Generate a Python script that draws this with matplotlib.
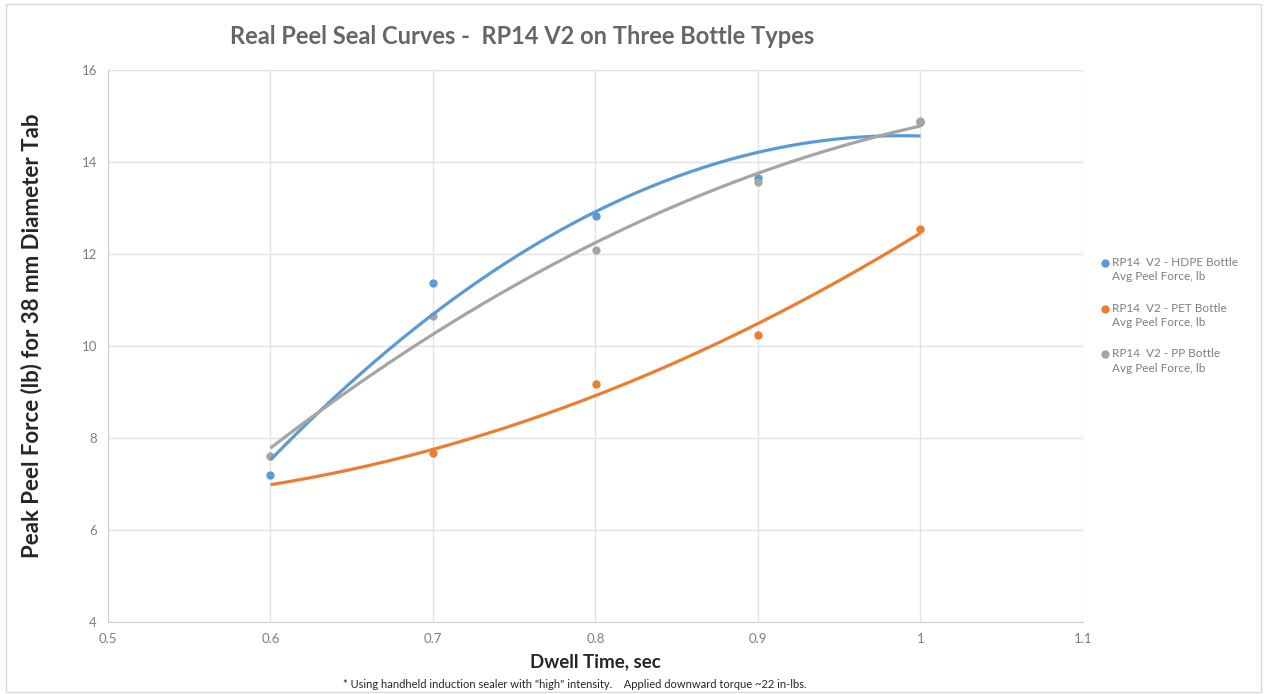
import matplotlib.pyplot as plt
import numpy as np
from matplotlib.lines import Line2D
from matplotlib.patches import Rectangle

plt.rcParams['font.family'] = ['Lato', 'DejaVu Sans']

# data
dwell = [0.6, 0.7, 0.8, 0.9, 1.0]
hdpe = [7.2, 11.37, 12.83, 13.65, 14.86]
pet_x = [0.7, 0.8, 0.9, 1.0]
pet = [7.67, 9.17, 10.24, 12.54]
pp = [7.61, 10.65, 12.09, 13.57, 14.9]

labels = ["RP14  V2 - HDPE Bottle\nAvg Peel Force, lb",
          "RP14  V2 - PET Bottle\nAvg Peel Force, lb",
          "RP14  V2 - PP Bottle\nAvg Peel Force, lb"]
colors = ["#5B9BD5", "#ED7D31", "#A5A5A5"]

W, H = 1267, 694
fig = plt.figure(figsize=(W/100, H/100), dpi=100)
ax = fig.add_axes([108/W, 1-622/H, (1083-108)/W, (622-70)/H])

# border round the chart area
fig.patches.append(Rectangle((6/W, 2/H), 1255/W, 688/H, transform=fig.transFigure,
                             fill=False, edgecolor="#D9D9D9", linewidth=1))

series = [(dwell, hdpe), (pet_x, pet), (dwell, pp)]
xx = np.linspace(0.6, 1.0, 200)
for (x, y), c in zip(series, colors):
    ax.scatter(x, y, s=36, color=c, zorder=3, linewidths=0)
    # 2nd order trendline, like excel
    p = np.polyfit(x, y, 2)
    ax.plot(xx, np.polyval(p, xx), color=c, linewidth=2.3, zorder=4, solid_capstyle='butt')

ax.set_xlim(0.5, 1.1)
ax.set_ylim(4, 16)
ax.set_xticks(np.arange(0.5, 1.11, 0.1))
ax.set_xticklabels(["0.5", "0.6", "0.7", "0.8", "0.9", "1", "1.1"])
ax.set_yticks(range(4, 17, 2))
ax.grid(True, color="#E3E3E3", linewidth=1)
ax.set_axisbelow(True)
for s in ["top", "right"]:
    ax.spines[s].set_visible(False)
for s in ["left", "bottom"]:
    ax.spines[s].set_color("#D0D0D0")
ax.tick_params(length=0, colors="#7F7F7F", labelsize=9.5, pad=8)

ax.set_xlabel("Dwell Time, sec", fontsize=13.5, fontweight="bold", color="#262626", labelpad=6)
fig.text(32/W, 1-336/H, "Peak Peel Force (lb) for 38 mm Diameter Tab", rotation=90,
         ha="center", va="center", fontsize=16, fontweight="bold", color="#262626")

fig.text(522/W, 1-37/H, "Real Peel Seal Curves -  RP14 V2 on Three Bottle Types",
         ha="center", va="center", fontsize=17, fontweight="bold", color="#666666")
fig.text(575/W, 1-684/H,
         '* Using handheld induction sealer with "high" intensity.    Applied downward torque ~22 in-lbs.',
         ha="center", va="center", fontsize=8, color="#262626")

# legend by hand: marker sits on the first text line, as in excel
for i, (lab, c) in enumerate(zip(labels, colors)):
    y0 = 263 + i * 45.5
    fig.add_artist(Line2D([1105/W], [1-y0/H], transform=fig.transFigure, linestyle="none",
                          marker="o", markersize=6, color=c, markeredgewidth=0))
    first, second = lab.split("\n")
    fig.text(1112/W, 1-y0/H, first, ha="left", va="center", fontsize=8.5, color="#7F7F7F")
    fig.text(1112/W, 1-(y0+14)/H, second, ha="left", va="center", fontsize=8.5, color="#7F7F7F")

fig.savefig("out.png", dpi=100)
